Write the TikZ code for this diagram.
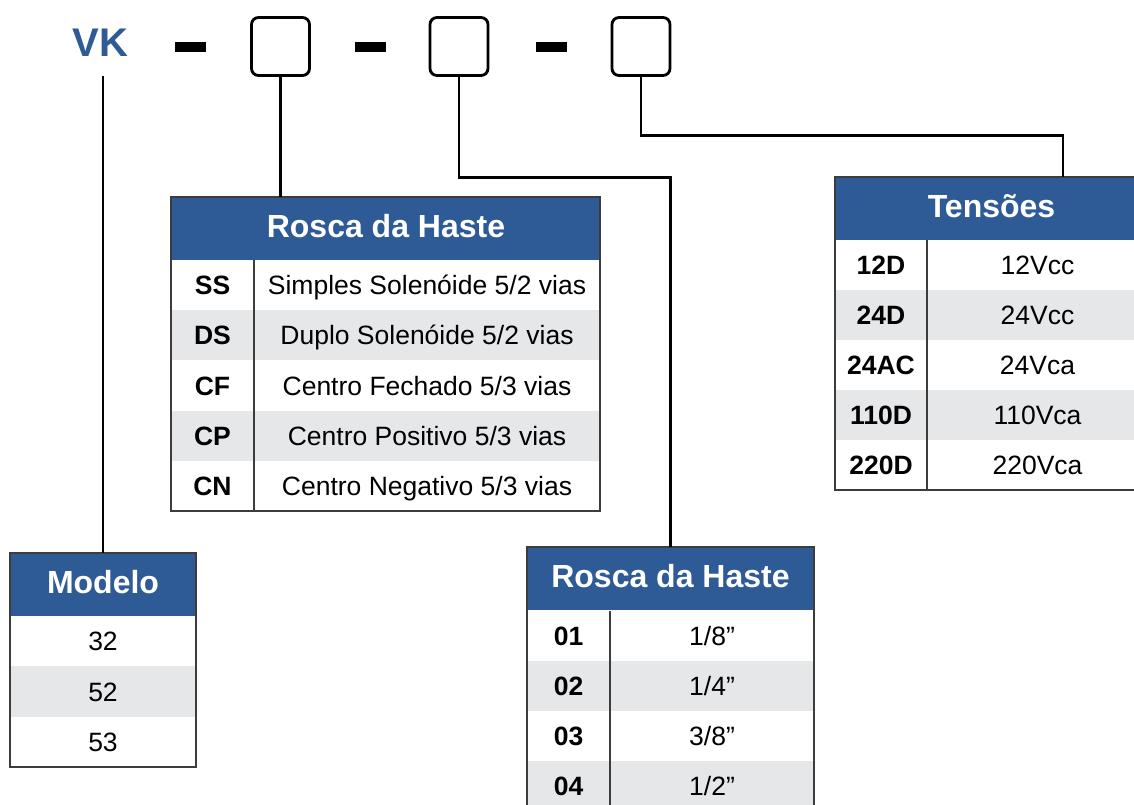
\documentclass[tikz,border=0pt]{standalone}
\usepackage{fontspec}
\setmainfont{Liberation Sans}
\definecolor{hblue}{HTML}{2E5A95}
\definecolor{rowgray}{HTML}{E6E7E8}
\definecolor{rulegray}{HTML}{3C3C3C}
\newcommand{\myhdrfont}{\fontsize{32bp}{36bp}\selectfont\bfseries}
\newcommand{\mycodefont}{\fontsize{26.5bp}{30bp}\selectfont\bfseries}
\newcommand{\myvalfont}{\fontsize{26.5bp}{30bp}\selectfont}
\newcommand{\myvkfont}{\fontsize{40bp}{44bp}\selectfont\bfseries}
\begin{document}
\begin{tikzpicture}[x=1bp,y=-1bp,
  cellbase/.style={inner sep=0pt, outer sep=0pt, anchor=north west, text height=19bp, text depth=0pt, minimum height=50bp},
  hdr/.style={cellbase, fill=hblue, text=white, font=\myhdrfont, text height=23bp, text depth=5bp, minimum height=63bp},
  code/.style={cellbase, font=\mycodefont},
  val/.style={cellbase, font=\myvalfont},
  wr/.style={fill=white},
  gr/.style={fill=rowgray},
  tabframe/.style={draw=rulegray, line width=1.6bp},
  divider/.style={draw=rulegray, line width=2bp},
  conn/.style={draw=black, line width=2.6bp},
  slot/.style={draw=black, line width=2.8bp, rounded corners=7bp, minimum width=58bp, minimum height=58bp, inner sep=0pt, outer sep=0pt},
  dashbar/.style={fill=black, minimum width=31bp, minimum height=10bp, inner sep=0pt},
  t1c/.style={code, minimum width=83bp},
  t1v/.style={val, minimum width=346bp},
  t2c/.style={code, minimum width=92bp},
  t2v/.style={val, minimum width=221bp},
  t3c/.style={code, minimum width=83bp},
  t3v/.style={val, minimum width=204bp},
  mv/.style={val, minimum width=186bp}
]
\useasboundingbox (0,0) rectangle (1134,805);
\clip (0,0) rectangle (1134,805);
\fill[white] (0,0) rectangle (1134,805);

% top code line
\node[font=\myvkfont, text=hblue, inner sep=0pt] (vk) at (100.5,42.5) {VK};
\node[dashbar] (d1) at (190.5,47) {};
\node[slot] (b1) at (280.5,46.5) {};
\node[dashbar] (d2) at (370,47) {};
\node[slot] (b2) at (459,46.5) {};
\node[dashbar] (d3) at (551,47) {};
\node[slot] (b3) at (641,46.5) {};

% Table 1: Rosca da Haste (valves)
\node[hdr, minimum width=430bp] (t1h) at (171,197) {Rosca da Haste};
\node[t1c, wr] (t1c1) at (171,260) {SS};
\node[t1v, wr] (t1v1) at (254,260) {Simples Solenóide 5/2 vias};
\node[t1c, gr] (t1c2) at (171,310) {DS};
\node[t1v, gr] (t1v2) at (254,310) {Duplo Solenóide 5/2 vias};
\node[t1c, wr] (t1c3) at (171,361) {CF};
\node[t1v, wr] (t1v3) at (254,361) {Centro Fechado 5/3 vias};
\node[t1c, gr] (t1c4) at (171,411) {CP};
\node[t1v, gr] (t1v4) at (254,411) {Centro Positivo 5/3 vias};
\node[t1c, wr] (t1c5) at (171,461) {CN};
\node[t1v, wr] (t1v5) at (254,461) {Centro Negativo 5/3 vias};
\draw[tabframe] (t1h.north west) rectangle (t1v5.south east);
\draw[divider] (t1c1.north east) -- (t1c5.south east);

% Table 2: Tensoes
\node[hdr, minimum width=313bp] (t2h) at (835,177) {Tensões};
\node[t2c, wr] (t2c1) at (835,240) {12D};
\node[t2v, wr] (t2v1) at (927,240) {12Vcc};
\node[t2c, gr] (t2c2) at (835,290) {24D};
\node[t2v, gr] (t2v2) at (927,290) {24Vcc};
\node[t2c, wr] (t2c3) at (835,340) {24AC};
\node[t2v, wr] (t2v3) at (927,340) {24Vca};
\node[t2c, gr] (t2c4) at (835,390) {110D};
\node[t2v, gr] (t2v4) at (927,390) {110Vca};
\node[t2c, wr] (t2c5) at (835,440) {220D};
\node[t2v, wr] (t2v5) at (927,440) {220Vca};
\draw[tabframe] (t2h.north west) rectangle (t2v5.south east);
\draw[divider] (t2c1.north east) -- (t2c5.south east);

% Table 3: Modelo
\node[hdr, minimum width=186bp] (mh) at (10,553) {Modelo};
\node[mv, wr] (m1) at (10,616) {32};
\node[mv, gr, minimum height=51bp] (m2) at (10,666) {52};
\node[mv, wr] (m3) at (10,717) {53};
\draw[tabframe] (mh.north west) rectangle (m3.south east);

% Table 4: Rosca da Haste (threads)
\node[hdr, minimum width=287bp] (r2h) at (527,547) {Rosca da Haste};
\node[t3c, wr] (r2c1) at (527,611) {01};
\node[t3v, wr] (r2v1) at (610,611) {1/8”};
\node[t3c, gr] (r2c2) at (527,661) {02};
\node[t3v, gr] (r2v2) at (610,661) {1/4”};
\node[t3c, wr] (r2c3) at (527,711) {03};
\node[t3v, wr] (r2v3) at (610,711) {3/8”};
\node[t3c, gr] (r2c4) at (527,761) {04};
\node[t3v, gr] (r2v4) at (610,761) {1/2”};
\draw[tabframe] (r2h.north west) rectangle (r2v4.south east);
\draw[divider] (r2c1.north east) -- (r2c4.south east);

% connectors
\coordinate (tc) at (1063,177);
\draw[conn] (mh.north) -- (mh.north |- b1.south);
\draw[conn] (b1.south) -- (b1.south |- t1h.north);
\draw[conn] (b2.south) -- ++(0,102) -| (r2h.north);
\draw[conn] (b3.south) -- ++(0,60) -| (tc);
\end{tikzpicture}
\end{document}
